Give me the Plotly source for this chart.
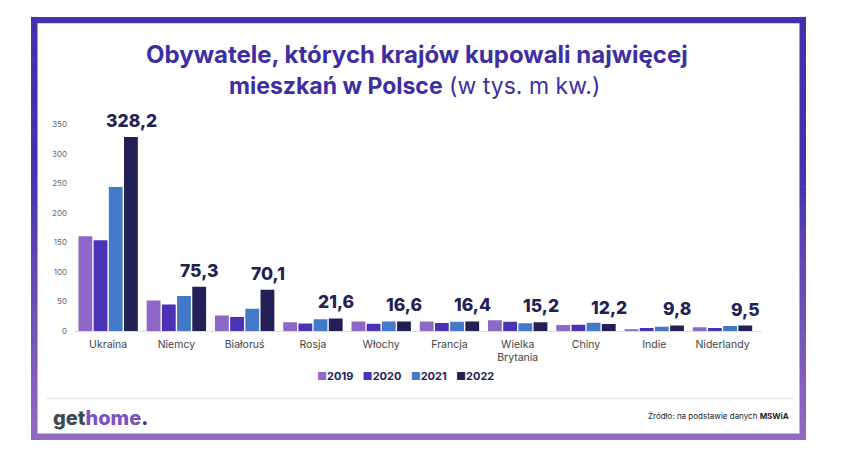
import plotly.graph_objects as go

# ---------------- data ----------------
categories = ["Ukraina", "Niemcy", "Białoruś", "Rosja", "Włochy", "Francja",
              "Wielka<br>Brytania", "Chiny", "Indie", "Niderlandy"]
years = ["2019", "2020", "2021", "2022"]
v2019 = [160.5, 52, 26.5, 15, 16.5, 16.5, 18.7, 10.5, 3.3, 6.5]
v2020 = [154, 45, 24, 13, 12.5, 14, 16, 11, 5.3, 5.3]
v2021 = [244, 59.5, 38, 20, 16.5, 16, 13.5, 14.3, 7.6, 8.7]
v2022 = [328.2, 75.3, 70.1, 21.6, 16.6, 16.4, 15.2, 12.2, 9.8, 9.5]
series = [v2019, v2020, v2021, v2022]
labels_2022 = ["328,2", "75,3", "70,1", "21,6", "16,6", "16,4", "15,2", "12,2", "9,8", "9,5"]
y_ticks = [0, 50, 100, 150, 200, 250, 300, 350]

colors = ["#8E68C6", "#4A33B4", "#4478C9", "#231F57"]
OFF = 8  # page body margin
W, H = 850 - 2 * OFF, 474 - 2 * OFF
FONT = "Inter"


def px(x):
    return (x - OFF) / W


def py(y):
    return 1 - (y - OFF) / H


fig = go.Figure()
for name, vals, col in zip(years, series, colors):
    fig.add_trace(go.Bar(x=categories, y=vals, name=name, marker_color=col,
                         marker_line_width=0, showlegend=False,
                         hovertemplate="%{x}: %{y}<extra>" + name + "</extra>"))

annotations = []
for cat, v, lab in zip(categories, v2022, labels_2022):
    annotations.append(dict(x=cat, y=v, xref="x", yref="y", text=lab,
                            showarrow=False, xanchor="center", yanchor="bottom",
                            xshift=23, yshift=4,
                            font=dict(family=FONT, size=17.5, color="#231F57", weight=800)))

# title
annotations.append(dict(x=px(417), y=py(50), xref="paper", yref="paper",
                        text="<b>Obywatele, których krajów kupowali najwięcej</b>",
                        showarrow=False, xanchor="center", yanchor="middle",
                        font=dict(family=FONT, size=24, color="#3D2FA3")))
annotations.append(dict(x=px(414), y=py(83), xref="paper", yref="paper",
                        text="<b>mieszkań w Polsce</b> (w tys. m kw.)",
                        showarrow=False, xanchor="center", yanchor="middle",
                        font=dict(family=FONT, size=23, color="#3D2FA3")))

# legend (manual, compact)
leg_parts = []
for name, col in zip(years, colors):
    leg_parts.append(f"<span style='color:{col}'>■</span><b>{name}</b>")
annotations.append(dict(x=px(405), y=py(379), xref="paper", yref="paper",
                        text="&nbsp;&nbsp;&nbsp;".join(leg_parts),
                        showarrow=False, xanchor="center", yanchor="middle",
                        font=dict(family=FONT, size=11, color="#231F57")))

# logo
annotations.append(dict(x=px(51), y=py(422), xref="paper", yref="paper",
                        text="<span style='color:#3B4A53'>get</span>"
                             "<span style='color:#7A52C2'>home</span>"
                             "<span style='color:#3D2FA3'>.</span>",
                        showarrow=False, xanchor="left", yanchor="middle",
                        font=dict(family=FONT, size=20, color="#3B4A53", weight=800)))
# source
annotations.append(dict(x=px(791), y=py(420), xref="paper", yref="paper",
                        text="Źródło: na podstawie danych <b>MSWiA</b>",
                        showarrow=False, xanchor="right", yanchor="middle",
                        font=dict(family=FONT, size=8, color="#222222")))

# frame shapes (gradient approximated by segments)
top_c = (0x45, 0x31, 0xAD)
bot_c = (0x93, 0x6A, 0xC2)


def col_at(y):
    t = (y - 12) / (445 - 12)
    t = 0 if t < 0.35 else (t - 0.35) / 0.65
    c = [round(a + (b - a) * t) for a, b in zip(top_c, bot_c)]
    return "rgb(%d,%d,%d)" % tuple(c)


shapes = []
n = 40
y0, y1 = 12, 444.5
step = (y1 - y0) / n
for i in range(n):
    ya = y0 + i * step
    yb = ya + step + 0.6
    c = col_at(ya + step / 2)
    for xa, xb in ((31, 37.5), (799.5, 806)):
        shapes.append(dict(type="rect", xref="paper", yref="paper",
                           x0=px(xa), x1=px(xb), y0=py(ya), y1=py(min(yb, y1)),
                           fillcolor=c, line_width=0, layer="below"))
shapes.append(dict(type="rect", xref="paper", yref="paper", x0=px(31), x1=px(806),
                   y0=py(12), y1=py(18.5), fillcolor=col_at(12), line_width=0, layer="below"))
shapes.append(dict(type="rect", xref="paper", yref="paper", x0=px(31), x1=px(806),
                   y0=py(438), y1=py(444.5), fillcolor=col_at(444), line_width=0, layer="below"))
# separator
shapes.append(dict(type="line", xref="paper", yref="paper", x0=px(47), x1=px(794),
                   y0=py(402), y1=py(402), line=dict(color="#E6E6E6", width=1.5)))

fig.update_layout(
    width=W, height=H,
    margin=dict(l=0, r=0, t=0, b=0),
    paper_bgcolor="white", plot_bgcolor="white",
    barmode="group", bargap=0.11, bargroupgap=0.09,
    font=dict(family=FONT),
    annotations=annotations, shapes=shapes,
    xaxis=dict(domain=[px(74), px(762)], showgrid=False, showline=True,
               linecolor="#DDDDDD", linewidth=1, ticks="",
               tickfont=dict(family=FONT, size=10.5, color="#444444"),
               ticklabelstandoff=3),
    yaxis=dict(domain=[py(333.3), py(121.7)], range=[0, 350], showgrid=False,
               zeroline=False, showline=False, tickvals=y_ticks,
               tickfont=dict(family=FONT, size=8, color="#666666"), ticks="",
               ticklabelstandoff=6),
)

fig.write_html("out.html")
